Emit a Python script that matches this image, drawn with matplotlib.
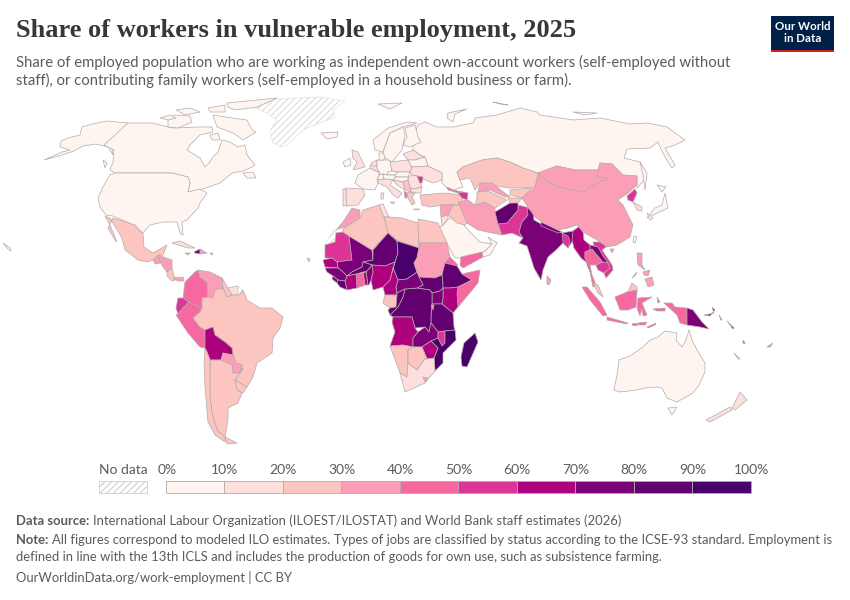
#!/usr/bin/env python3
"""Share of workers in vulnerable employment, 2025 - world map."""

import matplotlib
matplotlib.use('Agg')
import matplotlib.pyplot as plt
from matplotlib.colors import BoundaryNorm, ListedColormap
from matplotlib.patches import Polygon, Rectangle

# =============================================================================
# DATA
# No geodata offline, so outlines are hand traced from the picture (x, y in px).
# Each entry: name, estimated share in %, outline. None means no data.
# =============================================================================
BIN_EDGES = [0, 10, 20, 30, 40, 50, 60, 70, 80, 90, 100]
BIN_COLORS = ['#fff5f0', '#fde0dd', '#fcc5c0', '#fa9fb5', '#f768a1',
              '#dd3497', '#ae017e', '#7a0177', '#630070', '#49006a']
TICK_LABELS = ['0%', '10%', '20%', '30%', '40%', '50%', '60%', '70%', '80%', '90%', '100%']

NORTH_AMERICA = [
    ('Greenland', None, [(255,108),(277,99),(320,97),(345,101),(333,110),(335,117),(320,123),(303,130),(287,145),(282,147),(273,143),(270,130),(277,120),(267,113)]),
    ('Alaska', 5, [(128,123),(107,121),(92,124),(82,127),(80,135),(68,138),(61,141),(60,147),(70,150),(62,152),(44,160),(62,155),(74,151),(83,146),(96,144),(104,146),(108,147),(113,155),(112,150)]),
    ('Canada', 8, [(128,123),(153,123),(160,125),(173,128),(197,127),(212,127),(213,132),(200,135),(190,145),(187,150),(200,158),(205,167),(209,163),(213,157),(218,152),(222,140),(230,142),(238,147),(245,145),(247,155),(255,165),(250,168),(243,171),(232,173),(220,183),(203,189),(188,192),(190,183),(188,177),(172,173),(115,173),(110,170),(113,162),(114,150),(104,145)]),
    ('USA', 5, [(110,175),(115,173),(172,173),(188,177),(190,183),(188,192),(200,189),(207,193),(200,203),(198,208),(187,220),(182,222),(183,235),(180,233),(177,222),(163,222),(150,225),(143,233),(135,227),(127,222),(113,216),(106,215),(100,207),(98,198),(103,187),(108,178)]),
    ('Baffin', 8, [(213,115),(232,118),(247,120),(252,130),(256,132),(243,140),(233,133),(225,130),(217,127)]),
    ('Victoria', 8, [(168,120),(175,115),(190,116),(192,122),(178,128),(168,127)]),
    ('Ellesmere', 8, [(227,103),(277,98),(257,107),(235,110),(228,107)]),
    ('Banks', 8, [(160,118),(170,115),(176,118),(168,120)]),
    ('Devon', 8, [(176,110),(190,108),(200,112),(185,115)]),
    ('Axel', 8, [(208,108),(225,105),(225,112),(210,112)]),
    ('Newfoundland', 8, [(243,173),(253,172),(256,178),(247,178)]),
    ('Vancouver', 8, [(103,160),(107,163),(105,168)]),
    ('Southampton', 8, [(210,135),(218,133),(220,140),(212,140)]),
    ('Iceland', 4, [(321,133),(338,132),(337,137),(327,139)]),
    ('Svalbard', 5, [(378,104),(402,103),(390,109)]),
    ('Hawaii', 5, [(3,243),(10,248),(11,251),(8,249)]),
    ('Mexico', 25, [(113,218),(135,225),(143,234),(144,247),(153,253),(167,245),(163,255),(153,260),(147,262),(138,260),(125,250),(122,238),(113,223),(110,218),(105,216),(110,225),(117,242),(115,240),(108,228)]),
    ('Guatemala', 35, [(153,260),(158,255),(161,263),(155,264)]),
    ('Honduras', 35, [(161,263),(158,255),(172,260),(172,268),(167,272),(163,267)]),
    ('Costa Rica', 25, [(167,272),(172,268),(175,280),(172,281),(167,276)]),
    ('Panama', 35, [(173,278),(183,277),(184,281),(178,281)]),
    ('Cuba', 15, [(172,243),(180,241),(195,248),(188,248),(178,245)]),
    ('Haiti', 85, [(194,252),(200,249),(200,254),(195,253)]),
    ('Dominican Rep.', 35, [(200,249),(207,253),(200,254)]),
    ('Jamaica', 35, [(185,253),(190,253),(188,255)]),
    ('Puerto Rico', 25, [(210,253),(213,253),(212,255)]),
]

SOUTH_AMERICA = [
    ('Colombia', 45, [(198,270),(200,277),(207,282),(208,297),(202,298),(202,308),(189,302),(183,298),(185,282),(195,272)]),
    ('Venezuela', 35, [(198,270),(210,272),(222,278),(223,288),(215,290),(213,298),(208,297),(207,282),(200,277)]),
    ('Guyana', 25, [(222,278),(228,288),(232,295),(227,297),(223,288)]),
    ('Suriname', 15, [(228,288),(238,286),(238,295),(232,295)]),
    ('French Guiana', None, [(238,286),(243,290),(239,295),(238,295)]),
    ('Ecuador', 55, [(178,298),(183,298),(189,302),(183,308),(178,314),(176,308)]),
    ('Peru', 45, [(189,302),(202,308),(200,312),(193,318),(200,327),(205,330),(205,348),(200,347),(188,333),(176,315),(178,314),(183,308)]),
    ('Brazil', 25, [(202,298),(208,297),(213,298),(215,290),(223,288),(227,297),(232,295),(239,295),(243,290),(247,300),(260,308),(272,308),(283,317),(280,328),(273,338),(272,353),(257,363),(253,377),(247,387),(235,380),(243,368),(240,373),(242,365),(236,363),(233,355),(232,348),(225,342),(215,335),(213,327),(205,330),(200,327),(193,318),(200,312),(202,308)]),
    ('Bolivia', 65, [(205,330),(213,327),(215,335),(225,342),(232,348),(233,355),(223,353),(221,360),(210,360),(207,352),(205,348)]),
    ('Paraguay', 35, [(223,353),(233,355),(236,363),(242,365),(240,373),(233,373),(232,365),(221,360)]),
    ('Uruguay', 25, [(235,380),(247,387),(243,393),(237,390)]),
    ('Argentina', 25, [(210,360),(221,360),(232,365),(233,373),(240,373),(243,368),(235,380),(237,390),(242,393),(238,403),(228,408),(228,420),(225,437),(217,430),(212,413),(210,397)]),
    ('Tierra del Fuego', 25, [(225,437),(237,443),(227,444)]),
    ('Chile', 25, [(205,348),(207,352),(210,360),(210,397),(212,413),(217,430),(225,437),(225,442),(215,435),(208,422),(205,387),(204,363)]),
]

AFRICA = [
    ('Morocco', 35, [(352,208),(360,210),(360,218),(344,228),(336,230),(343,222)]),
    ('Western Sahara', None, [(325,245),(333,230),(336,230),(344,228),(343,232),(336,233),(335,242)]),
    ('Mauritania', 55, [(325,245),(335,242),(336,233),(343,232),(349,236),(352,260),(337,262),(332,258),(325,258)]),
    ('Mali', 75, [(349,236),(372,250),(373,260),(363,262),(362,267),(352,272),(347,276),(343,272),(338,268),(337,262),(352,260)]),
    ('Algeria', 25, [(344,228),(360,218),(363,210),(379,205),(384,217),(388,233),(372,250),(349,236),(343,232)]),
    ('Tunisia', 15, [(379,205),(383,204),(389,217),(384,217)]),
    ('Libya', 25, [(384,217),(390,217),(402,218),(418,223),(419,248),(397,240),(388,233)]),
    ('Egypt', 25, [(418,219),(438,223),(447,243),(420,243),(419,248),(418,223)]),
    ('Niger', 85, [(373,250),(388,233),(397,241),(398,253),(395,262),(385,266),(372,265),(363,262),(373,260)]),
    ('Chad', 95, [(397,241),(419,248),(417,258),(414,263),(417,272),(407,279),(398,280),(393,268),(395,262),(398,253)]),
    ('Sudan', 35, [(420,243),(447,243),(450,257),(445,263),(442,275),(435,278),(419,277),(417,272),(414,263),(417,258),(419,248)]),
    ('South Sudan', 85, [(419,277),(435,278),(442,275),(443,283),(443,288),(440,291),(432,293),(430,290),(417,288),(423,285)]),
    ('Eritrea', 45, [(450,257),(458,265),(457,266),(445,263)]),
    ('Ethiopia', 85, [(445,263),(457,266),(462,274),(472,280),(458,287),(450,288),(443,288),(443,283),(442,275)]),
    ('Somalia', 45, [(462,274),(480,270),(478,283),(458,307),(457,293),(458,287),(472,280)]),
    ('Kenya', 65, [(443,288),(450,288),(458,287),(457,293),(458,307),(453,313),(442,304),(443,298)]),
    ('Uganda', 75, [(432,293),(440,291),(443,288),(443,298),(442,304),(432,304)]),
    ('Tanzania', 85, [(432,304),(442,304),(453,313),(454,327),(455,330),(445,331),(438,332),(431,323),(431,315)]),
    ('DR Congo', 85, [(405,289),(417,288),(430,290),(432,293),(432,304),(431,315),(431,323),(429,332),(425,327),(415,328),(412,317),(393,317),(390,315),(398,307),(403,297)]),
    ('Rwanda', 35, [(431,305),(434,305),(433,310)]),
    ('CAR', 75, [(398,280),(407,279),(417,272),(419,277),(423,285),(417,288),(405,289),(397,293),(396,287)]),
    ('Cameroon', 65, [(395,262),(393,268),(398,280),(396,287),(397,295),(385,295),(383,287),(390,280)]),
    ('Nigeria', 65, [(372,265),(385,266),(395,262),(393,268),(390,280),(383,287),(373,290),(371,280),(373,272)]),
    ('Benin', 75, [(366,272),(367,271),(372,265),(373,272),(371,280),(369,285),(368,285)]),
    ('Togo', 65, [(363,273),(366,272),(368,285),(365,285)]),
    ('Ghana', 45, [(356,274),(363,273),(365,285),(357,288)]),
    ('Burkina Faso', 85, [(352,272),(362,267),(363,262),(372,265),(367,271),(356,274),(347,276)]),
    ('Cote dIvoire', 65, [(347,276),(356,274),(357,288),(347,290),(345,281)]),
    ('Senegal', 65, [(323,260),(332,258),(337,262),(338,268),(325,267)]),
    ('Guinea', 75, [(325,268),(338,268),(343,272),(347,276),(345,281),(338,280),(333,276),(327,272)]),
    ('Sierra Leone', 75, [(333,276),(338,280),(337,283),(332,279)]),
    ('Liberia', 85, [(337,283),(338,280),(345,281),(347,290),(340,287)]),
    ('Gabon', 25, [(385,295),(397,295),(396,307),(390,308),(383,303)]),
    ('Congo', 85, [(397,293),(405,289),(403,297),(398,307),(390,315),(388,310),(390,308),(396,307),(397,295)]),
    ('Angola', 65, [(393,317),(412,317),(415,328),(418,332),(413,338),(413,347),(403,345),(390,346),(395,332),(392,322)]),
    ('Zambia', 75, [(429,332),(431,323),(438,332),(438,338),(431,341),(422,347),(413,347),(413,338),(418,332),(425,327)]),
    ('Malawi', 55, [(438,332),(445,331),(445,343),(442,346),(438,338)]),
    ('Mozambique', 90, [(445,331),(455,330),(456,340),(443,353),(443,363),(435,371),(434,358),(438,348),(431,341),(438,338),(442,346),(445,343)]),
    ('Zimbabwe', 65, [(422,347),(431,341),(438,348),(434,358),(427,359)]),
    ('Namibia', 25, [(390,346),(403,345),(413,347),(408,350),(407,377),(400,373)]),
    ('Botswana', 25, [(408,350),(413,347),(422,347),(427,359),(425,359),(417,370),(408,363)]),
    ('South Africa', 15, [(407,377),(408,363),(417,370),(425,359),(427,359),(434,358),(435,371),(425,383),(405,392),(400,373)]),
    ('Lesotho', 35, [(423,377),(428,378),(425,382)]),
    ('Madagascar', 95, [(475,333),(478,342),(467,367),(462,366),(461,357),(464,343)]),
    ('Cape Verde', 25, [(307,258),(310,259),(309,262)]),
]

EUROPE = [
    ('Russia', 5, [(418,125),(425,122),(437,127),(453,127),(473,123),(475,118),(497,115),(520,108),(537,112),(540,115),(573,120),(600,118),(630,124),(647,123),(667,127),(685,140),(675,145),(665,148),(675,165),(672,168),(665,157),(660,147),(658,142),(650,148),(627,149),(624,158),(640,162),(647,177),(637,188),(637,176),(623,175),(612,164),(600,163),(598,170),(575,170),(557,166),(538,173),(523,168),(510,162),(497,158),(482,160),(463,167),(457,172),(460,180),(463,187),(453,190),(447,188),(442,183),(442,173),(428,166),(425,157),(420,155),(413,150),(413,143),(420,140),(414,135)]),
    ('Novaya Zemlya', 5, [(448,113),(467,109),(455,114),(453,122),(447,118)]),
    ('Severnaya', 5, [(493,102),(508,105),(500,104)]),
    ('New Siberian', 5, [(573,112),(597,113),(585,115)]),
    ('Sakhalin', 5, [(640,162),(647,173),(645,190),(643,175)]),
    ('UK', 15, [(352,150),(358,152),(365,167),(353,170),(357,162),(353,158)]),
    ('Ireland', 5, [(343,162),(350,158),(351,165),(345,167)]),
    ('France', 5, [(358,175),(370,168),(380,173),(379,175),(377,180),(378,183),(375,190),(363,189),(355,183)]),
    ('Spain', 15, [(345,188),(363,189),(365,195),(358,205),(347,206),(346,198),(346,190)]),
    ('Portugal', 15, [(343,189),(346,190),(346,198),(347,206),(343,206)]),
    ('Belgium', 15, [(370,165),(377,166),(377,168),(380,173),(370,168)]),
    ('Netherlands', 15, [(371,163),(377,160),(377,166),(372,166)]),
    ('Germany', 5, [(377,160),(390,160),(392,171),(388,172),(387,175),(383,174),(379,175),(380,173),(377,168)]),
    ('Denmark', 5, [(379,153),(385,153),(384,160),(379,160)]),
    ('Norway', 5, [(373,140),(388,128),(407,122),(417,123),(403,127),(390,133),(383,152),(375,150)]),
    ('Sweden', 5, [(390,133),(403,127),(405,135),(402,150),(392,162),(385,158),(383,152)]),
    ('Finland', 5, [(405,128),(415,125),(418,137),(421,142),(410,147),(403,145),(407,137)]),
    ('Baltics', 15, [(403,154),(413,150),(420,155),(425,157),(415,160),(408,160)]),
    ('Poland', 15, [(390,162),(408,160),(412,167),(410,172),(398,172),(392,171)]),
    ('Belarus', 5, [(408,160),(415,160),(425,157),(428,166),(412,167)]),
    ('Ukraine', 15, [(410,172),(412,167),(428,166),(442,173),(442,180),(433,183),(425,180),(417,176),(412,175)]),
    ('Romania', 15, [(408,177),(412,175),(417,176),(420,183),(422,187),(413,189),(410,188),(408,180)]),
    ('Moldova', 55, [(417,176),(423,177),(422,183),(420,183)]),
    ('Bulgaria', 15, [(410,188),(413,189),(422,187),(421,193),(415,193),(411,192)]),
    ('Czechia', 5, [(388,172),(392,171),(398,172),(395,175),(387,175)]),
    ('Slovakia', 5, [(398,172),(410,172),(408,177),(395,177),(395,175)]),
    ('Hungary', 5, [(395,177),(408,177),(408,180),(403,182),(393,180),(395,178)]),
    ('Switzerland', 5, [(379,175),(383,174),(384,179),(378,180),(377,180)]),
    ('Austria', 5, [(383,174),(387,175),(395,175),(395,178),(393,180),(384,179)]),
    ('Italy', 15, [(378,180),(384,179),(393,180),(390,185),(402,193),(398,198),(393,195),(387,187),(378,183)]),
    ('Sicily', 15, [(390,202),(395,202),(393,204)]),
    ('Sardinia', 15, [(381,193),(384,193),(383,199),(381,199)]),
    ('Croatia', 15, [(393,180),(403,182),(405,190),(397,185)]),
    ('Serbia', 25, [(403,182),(408,180),(410,188),(411,192),(405,190)]),
    ('Albania', 45, [(404,191),(407,193),(407,198),(405,198)]),
    ('Greece', 25, [(407,193),(411,192),(415,193),(412,197),(415,203),(412,205),(408,198)]),
    ('Crete', 25, [(413,209),(420,209),(417,210)]),
]

ASIA = [
    ('Turkey', 25, [(420,195),(445,193),(462,195),(463,205),(443,205),(430,207),(422,205)]),
    ('Georgia', 45, [(447,187),(453,190),(463,192),(458,193),(448,190)]),
    ('Azerbaijan', 55, [(458,193),(463,192),(468,193),(467,200),(462,198)]),
    ('Saudi Arabia', 5, [(438,228),(442,226),(448,219),(458,218),(470,232),(480,242),(492,244),(484,252),(462,258),(455,258),(445,240)]),
    ('Yemen', 45, [(461,257),(482,252),(483,257),(463,268),(460,265)]),
    ('Oman', 5, [(488,237),(497,243),(490,255),(483,257),(482,252),(484,252),(492,244)]),
    ('Iraq', 25, [(442,205),(463,205),(468,222),(465,225),(457,223),(448,215)]),
    ('Syria', 35, [(440,205),(453,205),(448,215),(441,217)]),
    ('Jordan', 15, [(441,217),(448,215),(448,219),(442,226)]),
    ('Iran', 35, [(458,202),(468,200),(475,205),(485,202),(495,208),(495,212),(498,224),(502,235),(492,233),(478,230),(467,223)]),
    ('Pakistan', 55, [(518,205),(530,208),(528,215),(522,222),(519,232),(523,238),(512,233),(502,235),(498,224),(507,223),(518,210)]),
    ('Afghanistan', 85, [(495,212),(510,203),(518,202),(518,210),(507,223),(498,224)]),
    ('India', 75, [(527,208),(533,211),(534,220),(548,228),(562,233),(573,231),(580,226),(582,233),(573,240),(568,248),(563,243),(556,250),(548,257),(543,270),(541,280),(534,268),(530,255),(527,246),(519,243),(523,238),(519,232),(522,222),(528,215)]),
    ('Nepal', 75, [(541,222),(562,232),(558,233),(541,226)]),
    ('Bangladesh', 55, [(562,233),(568,236),(570,241),(568,248),(563,243)]),
    ('Myanmar', 65, [(573,231),(580,226),(583,232),(584,240),(590,245),(590,250),(585,252),(585,258),(590,268),(590,272),(586,262),(581,258),(574,248),(572,240)]),
    ('Sri Lanka', 35, [(547,276),(551,280),(549,285),(547,284)]),
    ('Thailand', 45, [(590,250),(592,249),(597,255),(603,262),(596,265),(590,265),(592,275),(596,285),(593,287),(590,272),(590,268),(585,258),(585,252)]),
    ('Vietnam', 55, [(593,242),(605,242),(606,247),(602,250),(612,265),(613,270),(606,278),(604,273),(610,268),(608,263),(603,256),(598,247),(594,246)]),
    ('Laos', 75, [(590,245),(594,246),(598,247),(603,256),(608,263),(603,262),(597,255),(592,249),(590,250)]),
    ('Cambodia', 55, [(596,265),(603,262),(608,263),(610,268),(604,273),(598,270)]),
    ('Kazakhstan', 25, [(457,172),(463,167),(482,160),(497,158),(510,162),(523,168),(538,173),(535,187),(520,188),(508,188),(480,183),(475,190),(470,178),(460,180)]),
    ('Uzbekistan', 35, [(480,183),(492,183),(510,197),(505,197),(490,190),(478,192)]),
    ('Turkmenistan', 25, [(477,192),(488,191),(507,200),(495,208),(485,202),(475,205),(477,198)]),
    ('Kyrgyzstan', 25, [(510,190),(532,188),(522,198),(510,195)]),
    ('Tajikistan', 25, [(508,198),(522,198),(518,203),(510,203)]),
    ('China', 35, [(522,198),(535,187),(538,177),(538,173),(548,182),(563,188),(583,192),(593,185),(607,178),(597,177),(598,170),(600,163),(612,164),(623,175),(637,176),(637,185),(628,193),(618,200),(623,205),(633,225),(630,237),(617,245),(607,247),(597,240),(583,232),(577,225),(568,228),(558,230),(542,222),(535,217),(530,210)]),
    ('Mongolia', 35, [(538,173),(557,166),(575,170),(598,170),(597,177),(607,178),(593,185),(583,192),(563,188),(548,182)]),
    ('North Korea', 55, [(627,196),(635,189),(637,193),(633,202),(628,200)]),
    ('South Korea', 15, [(633,202),(642,207),(642,211),(637,210)]),
    ('Honshu', 5, [(665,193),(668,208),(653,215),(647,218),(655,208),(662,205)]),
    ('Hokkaido', 5, [(657,185),(666,187),(662,192)]),
    ('Kyushu', 5, [(647,213),(653,218),(650,220)]),
    ('Taiwan', 5, [(634,236),(637,237),(635,243),(633,242)]),
    ('Hainan', 35, [(610,249),(614,249),(612,253)]),
    ('Luzon', 35, [(637,253),(642,253),(642,265),(645,270),(638,265)]),
    ('Visayas', 35, [(643,272),(650,270),(648,276),(644,275)]),
    ('Mindanao', 35, [(645,279),(652,277),(654,285),(648,287)]),
    ('Palawan', 35, [(632,278),(637,272),(635,276)]),
    ('Malaysia', 25, [(593,283),(598,285),(603,297),(598,293)]),
    ('Sabah', 25, [(617,298),(628,292),(632,283),(637,287),(637,290),(627,292)]),
    ('Kalimantan', 45, [(615,297),(627,292),(637,290),(636,307),(628,310),(620,310)]),
    ('Sumatra', 45, [(582,287),(587,287),(600,302),(607,315),(603,316),(590,300)]),
    ('Java', 45, [(607,317),(628,323),(627,324),(607,320)]),
    ('Bali', 45, [(632,323),(637,323),(637,325),(632,325)]),
    ('Flores', 45, [(638,323),(647,322),(645,325),(639,325)]),
    ('Timor', 45, [(647,327),(656,323),(655,325),(648,328)]),
    ('Sulawesi', 45, [(638,298),(652,297),(642,303),(647,315),(643,316),(642,308),(640,316),(637,308)]),
    ('Halmahera', 45, [(657,297),(660,302),(658,303)]),
    ('Seram', 45, [(653,309),(665,308),(665,311),(657,311)]),
]

OCEANIA = [
    ('West Papua', 45, [(664,303),(672,303),(675,307),(687,308),(687,325),(680,323),(677,315)]),
    ('Papua New Guinea', 75, [(687,308),(693,310),(702,322),(709,329),(700,327),(687,325)]),
    ('New Britain', 75, [(704,315),(710,316),(715,310),(712,307),(714,313),(710,314)]),
    ('Solomon W', 75, [(719,315),(722,320),(721,320)]),
    ('Solomon E', 75, [(727,321),(734,328),(733,329)]),
    ('Vanuatu', 55, [(743,340),(745,343),(745,344),(743,343)]),
    ('Fiji', 45, [(767,347),(773,343),(770,347)]),
    ('New Caledonia', 15, [(734,353),(740,359),(738,359)]),
    ('Australia', 5, [(614,390),(617,375),(619,360),(630,356),(643,347),(650,340),(658,337),(665,331),(677,333),(676,340),(682,347),(686,340),(689,330),(692,340),(697,350),(705,363),(705,372),(699,385),(693,393),(677,402),(667,398),(662,388),(657,387),(645,388),(637,390),(620,392)]),
    ('Tasmania', 5, [(668,408),(677,407),(672,415)]),
    ('NZ South', 15, [(706,420),(730,407),(732,410),(710,422)]),
    ('NZ North', 15, [(732,408),(740,392),(747,400),(735,410)]),
]

TITLE = 'Share of workers in vulnerable employment, 2025'
SUBTITLE = ['Share of employed population who are working as independent own-account workers (self-employed without',
            'staff), or contributing family workers (self-employed in a household business or farm).']
SOURCE = 'International Labour Organization (ILOEST/ILOSTAT) and World Bank staff estimates (2026)'
NOTE = ['All figures correspond to modeled ILO estimates. Types of jobs are classified by status according to the ICSE-93 standard. Employment is',
        'defined in line with the 13th ICLS and includes the production of goods for own use, such as subsistence farming.']
URL = 'OurWorldinData.org/work-employment | CC BY'

GREY_TEXT = '#5b5b5b'
LINE_GREY = '#b3abab'
SMALL_FONT = 9.33


# =============================================================================
# DRAWING
# =============================================================================
def draw_map(ax, cmap, norm):
    """Draw every country outline, filled from its share."""
    plt.rcParams['hatch.linewidth'] = 0.8
    for region in [NORTH_AMERICA, SOUTH_AMERICA, EUROPE, ASIA, AFRICA, OCEANIA]:
        for name, share, outline in region:
            if share is None:
                patch = Polygon(outline, closed=True, facecolor='white', edgecolor='#dcdcdc',
                                hatch='/////', linewidth=0.4)
            else:
                patch = Polygon(outline, closed=True, facecolor=cmap(norm(share)),
                                edgecolor=LINE_GREY, linewidth=0.5, joinstyle='round')
            ax.add_patch(patch)


def draw_legend(ax):
    """Binned colour legend plus the no data box."""
    x0, x1 = 166.0, 751.0
    step = (x1 - x0) / (len(BIN_EDGES) - 1)
    for i, color in enumerate(BIN_COLORS):
        ax.add_patch(Rectangle((x0 + i * step, 481), step, 12, facecolor=color,
                               edgecolor=LINE_GREY, linewidth=0.6))
    for i, label in enumerate(TICK_LABELS):
        ax.text(x0 + i * step + (1 if i == 0 else 0), 470, label, ha='center', va='center',
                fontsize=10, color=GREY_TEXT, family='Lato')
    ax.add_patch(Rectangle((99, 481), 48, 12, facecolor='white', edgecolor='#d0d0d0',
                           hatch='/////', linewidth=0.6))
    ax.text(123, 470, 'No data', ha='center', va='center', fontsize=10,
            color=GREY_TEXT, family='Lato')


def bold_lead(fig, ax, x, y, lead, rest):
    """Bold lead word with normal text straight after it."""
    t = ax.text(x, y, lead, fontsize=SMALL_FONT, fontweight='bold', color=GREY_TEXT, family='Lato', va='center')
    box = t.get_window_extent(fig.canvas.get_renderer())
    ax.text(box.x1 + 3.5, y, rest, fontsize=SMALL_FONT, color=GREY_TEXT, family='Lato', va='center')


def draw_text(fig, ax):
    ax.text(16, 31, TITLE, fontsize=19.0, fontweight='bold', color='#373737',
            family='Liberation Serif', va='center')
    ax.text(16, 62, SUBTITLE[0], fontsize=10.75, color=GREY_TEXT, family='Lato', va='center')
    ax.text(16, 80, SUBTITLE[1], fontsize=10.75, color=GREY_TEXT, family='Lato', va='center')

    bold_lead(fig, ax, 16, 521, 'Data source:', SOURCE)
    bold_lead(fig, ax, 16, 540, 'Note:', NOTE[0])
    ax.text(16, 557, NOTE[1], fontsize=SMALL_FONT, color=GREY_TEXT, family='Lato', va='center')
    ax.text(16, 577, URL, fontsize=SMALL_FONT, color=GREY_TEXT, family='Lato', va='center')

    # logo
    ax.add_patch(Rectangle((771, 16), 63, 36, facecolor='#002147', edgecolor='none'))
    ax.add_patch(Rectangle((771, 49.5), 63, 2.5, facecolor='#ce261e', edgecolor='none'))
    ax.text(802.5, 26.5, 'Our World', ha='center', va='center', fontsize=8.3,
            fontweight='bold', color='white', family='Lato')
    ax.text(802.5, 39, 'in Data', ha='center', va='center', fontsize=8.3,
            fontweight='bold', color='white', family='Lato')


# =============================================================================
# MAIN
# =============================================================================
def main():
    fig = plt.figure(figsize=(8.5, 6), dpi=100)
    ax = fig.add_axes([0, 0, 1, 1])
    ax.set_xlim(0, 850)
    ax.set_ylim(600, 0)
    ax.axis('off')

    cmap = ListedColormap(BIN_COLORS)
    norm = BoundaryNorm(BIN_EDGES, cmap.N)

    draw_map(ax, cmap, norm)
    draw_legend(ax)
    draw_text(fig, ax)

    fig.savefig('out.png', dpi=100)
    plt.close(fig)


if __name__ == '__main__':
    main()
